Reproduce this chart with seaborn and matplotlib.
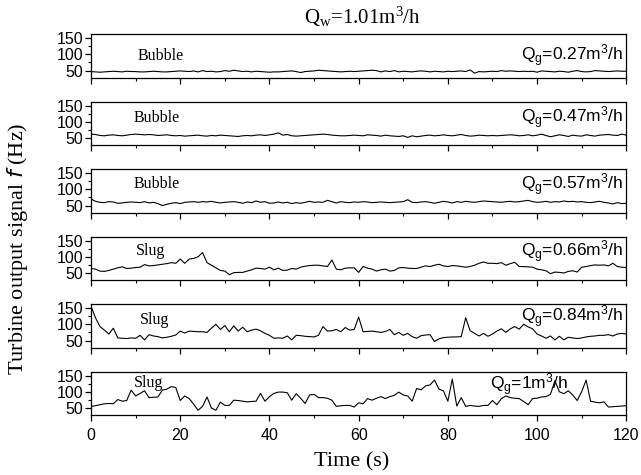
import numpy as np
import pandas as pd
import matplotlib
matplotlib.use("Agg")
import matplotlib.pyplot as plt
from matplotlib.ticker import MultipleLocator
import seaborn as sns

# Sampling instants (s), one reading per second
time_s = list(range(0, 121))

flow_labels = ["Q$_\\mathregular{g}$=0.27m$^\\mathregular{3}$/h",
               "Q$_\\mathregular{g}$=0.47m$^\\mathregular{3}$/h",
               "Q$_\\mathregular{g}$=0.57m$^\\mathregular{3}$/h",
               "Q$_\\mathregular{g}$=0.66m$^\\mathregular{3}$/h",
               "Q$_\\mathregular{g}$=0.84m$^\\mathregular{3}$/h",
               "Q$_\\mathregular{g}$=1m$^\\mathregular{3}$/h"]
regimes = ["Bubble", "Bubble", "Bubble", "Slug", "Slug", "Slug"]

f_027 = [47, 46, 45, 46, 47, 48, 47, 46, 48, 47,
         47, 46, 46, 47, 48, 47, 46, 46, 47, 48,
         49, 48, 47, 49, 46, 50, 47, 48, 46, 47,
         50, 48, 51, 49, 47, 48, 46, 48, 47, 46,
         45, 46, 46, 47, 48, 49, 47, 44, 47, 48,
         49, 51, 50, 49, 48, 47, 46, 47, 48, 47,
         48, 49, 50, 51, 50, 46, 49, 47, 50, 46,
         48, 47, 46, 48, 49, 48, 46, 48, 47, 46,
         48, 47, 48, 49, 47, 52, 42, 47, 46, 47,
         48, 47, 50, 48, 49, 48, 47, 48, 47, 48,
         45, 49, 48, 47, 46, 48, 47, 45, 48, 50,
         47, 46, 47, 50, 49, 48, 47, 48, 49, 48, 48]

f_047 = [62, 61, 58, 57, 59, 60, 58, 57, 59, 61,
         62, 61, 60, 61, 60, 58, 59, 60, 58, 57,
         58, 56, 57, 58, 59, 57, 56, 58, 57, 59,
         58, 57, 56, 55, 57, 58, 57, 59, 60, 58,
         60, 62, 66, 59, 61, 57, 56, 57, 58, 59,
         60, 61, 62, 61, 59, 58, 57, 57, 58, 59,
         58, 57, 60, 59, 58, 56, 59, 57, 56, 55,
         57, 52, 57, 54, 56, 58, 59, 57, 58, 60,
         58, 57, 59, 61, 58, 56, 57, 59, 58, 57,
         58, 57, 58, 59, 60, 59, 57, 58, 60, 57,
         59, 62, 58, 54, 57, 60, 58, 55, 59, 57,
         56, 60, 58, 56, 59, 60, 61, 59, 58, 62, 59]

f_057 = [70, 63, 60, 59, 62, 61, 57, 58, 60, 61,
         60, 59, 62, 58, 60, 56, 50, 54, 57, 59,
         56, 60, 61, 62, 60, 62, 61, 63, 60, 58,
         60, 61, 62, 60, 57, 61, 59, 64, 60, 62,
         57, 58, 61, 58, 60, 56, 59, 57, 60, 63,
         60, 61, 60, 66, 62, 58, 62, 60, 59, 61,
         60, 62, 61, 59, 60, 61, 60, 59, 60, 61,
         62, 68, 60, 59, 61, 62, 60, 57, 60, 63,
         61, 58, 62, 60, 63, 61, 60, 62, 64, 63,
         62, 61, 60, 62, 63, 61, 62, 64, 66, 62,
         60, 61, 63, 60, 62, 61, 64, 62, 63, 61,
         62, 60, 59, 61, 63, 60, 58, 55, 59, 56, 57]

f_066 = [64, 62, 56, 55, 58, 62, 66, 69, 64, 65,
         67, 68, 76, 72, 73, 75, 77, 79, 82, 80,
         93, 80, 93, 95, 100, 113, 82, 74, 66, 58,
         56, 45, 51, 52, 52, 56, 60, 65, 64, 62,
         68, 60, 65, 58, 59, 64, 62, 68, 71, 73,
         74, 74, 72, 70, 90, 62, 60, 65, 66, 66,
         52, 70, 65, 62, 56, 60, 62, 56, 58, 66,
         67, 65, 64, 64, 68, 72, 70, 74, 77, 72,
         70, 73, 72, 70, 68, 70, 74, 80, 84, 80,
         80, 79, 82, 74, 79, 83, 70, 70, 69, 68,
         62, 60, 57, 48, 53, 52, 50, 55, 57, 53,
         68, 70, 73, 75, 74, 75, 72, 80, 70, 68, 67]

f_084 = [155, 120, 93, 82, 70, 88, 58, 57, 56, 58,
         57, 66, 52, 68, 64, 62, 58, 60, 63, 67,
         79, 73, 79, 78, 77, 77, 75, 88, 100, 84,
         96, 77, 95, 79, 91, 77, 82, 85, 80, 72,
         66, 57, 58, 57, 64, 52, 66, 65, 63, 62,
         61, 66, 93, 79, 80, 84, 77, 90, 82, 84,
         122, 77, 78, 79, 77, 75, 78, 84, 68, 75,
         66, 72, 62, 57, 65, 67, 68, 47, 55, 59,
         60, 61, 61, 62, 120, 80, 72, 64, 72, 63,
         70, 79, 86, 75, 86, 93, 85, 100, 92, 86,
         70, 64, 57, 64, 52, 63, 52, 60, 58, 56,
         58, 61, 63, 64, 66, 66, 68, 64, 70, 72, 70]

f_100 = [55, 57, 60, 63, 64, 63, 76, 71, 73, 105,
         87, 95, 103, 82, 83, 84, 105, 108, 116, 113,
         73, 87, 79, 62, 43, 55, 84, 50, 43, 68,
         58, 58, 74, 73, 71, 69, 70, 71, 95, 71,
         85, 95, 99, 99, 97, 74, 94, 80, 64, 90,
         92, 82, 82, 80, 74, 55, 57, 58, 58, 53,
         66, 63, 79, 74, 80, 85, 79, 85, 89, 99,
         90, 87, 71, 110, 106, 118, 121, 136, 108, 103,
         71, 139, 56, 82, 55, 58, 56, 55, 58, 58,
         73, 60, 79, 87, 82, 80, 79, 70, 60, 79,
         80, 84, 85, 92, 134, 100, 94, 103, 90, 73,
         100, 136, 71, 68, 66, 69, 53, 54, 55, 56, 57]

series = [f_027, f_047, f_057, f_066, f_084, f_100]

# Text placement per panel (axes fraction, with horizontal alignment)
regime_xy = [(0.13, 0.50), (0.123, 0.63), (0.123, 0.65),
             (0.112, 0.66), (0.118, 0.64), (0.108, 0.74)]
flow_xy = [(0.994, 0.38, "right"), (0.994, 0.52, "right"),
           (0.994, 0.53, "right"), (0.994, 0.54, "right"),
           (0.994, 0.60, "right"), (0.818, 0.58, "center")]

sns.set_style("ticks")
plt.rcParams["font.family"] = ["Liberation Sans", "DejaVu Sans"]
plt.rcParams["mathtext.default"] = "regular"
plt.rcParams["text.color"] = "black"
plt.rcParams["xtick.color"] = "black"
plt.rcParams["ytick.color"] = "black"
plt.rcParams["xtick.labelcolor"] = "black"
plt.rcParams["ytick.labelcolor"] = "black"
serif = ["Liberation Serif", "DejaVu Serif"]

fig, axes = plt.subplots(6, 1, sharex=True, figsize=(6.41, 4.75), dpi=100)
fig.subplots_adjust(left=0.142, right=0.977, top=0.928, bottom=0.126, hspace=0.55)

for ax, vals, reg, lab, rxy, fxy in zip(axes, series, regimes, flow_labels,
                                         regime_xy, flow_xy):
    df = pd.DataFrame({"t": time_s, "f": vals})
    sns.lineplot(data=df, x="t", y="f", ax=ax, color="black", linewidth=0.8)
    ax.set_xlim(0, 120)
    ax.set_ylim(28, 162)
    ax.set_yticks([50, 100, 150])
    ax.yaxis.set_minor_locator(MultipleLocator(25))
    ax.xaxis.set_major_locator(MultipleLocator(20))
    ax.xaxis.set_minor_locator(MultipleLocator(10))
    ax.tick_params(which="major", direction="out", length=4, width=0.9,
                   labelsize=11.5)
    ax.tick_params(axis="y", which="major", pad=1.5)
    ax.tick_params(axis="x", which="major", pad=5)
    ax.tick_params(which="minor", direction="out", length=2.5, width=0.8)
    ax.set_xlabel("")
    ax.set_ylabel("")
    for sp in ax.spines.values():
        sp.set_linewidth(0.9)
        sp.set_color("black")
    ax.text(rxy[0], rxy[1], reg, transform=ax.transAxes, ha="center",
            va="center", family=serif, fontsize=11.5)
    ax.text(fxy[0], fxy[1], lab, transform=ax.transAxes, ha=fxy[2],
            va="baseline", fontsize=12.5)

fig.text(0.565, 0.965, "Q$_\\mathregular{w}$=1.01m$^\\mathregular{3}$/h",
         ha="center", va="center", family=serif, fontsize=15)
fig.text(0.548, 0.027, "Time (s)", ha="center", va="center",
         family=serif, fontsize=16)
fig.text(0.028, 0.476, "Turbine output signal $\\mathit{f}$ (Hz)",
         ha="center", va="center", rotation=90, family=serif, fontsize=16)

fig.savefig("out.png", dpi=100)
